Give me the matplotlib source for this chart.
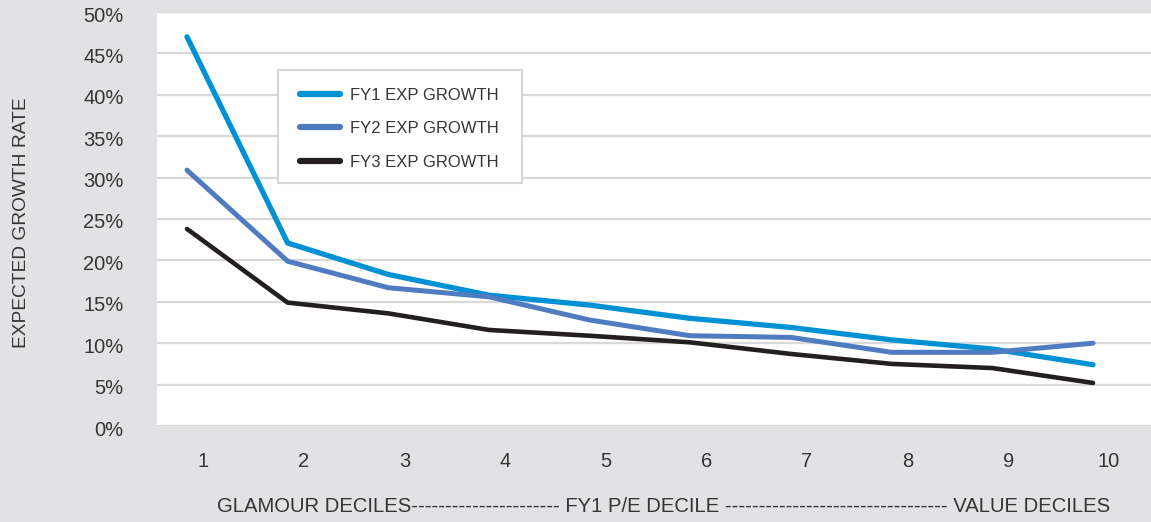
import matplotlib
matplotlib.use("Agg")
import matplotlib.pyplot as plt
import matplotlib.transforms as mtransforms
from matplotlib.patches import Rectangle
from matplotlib.ticker import FuncFormatter

plt.rcParams["font.family"] = ["Liberation Sans", "DejaVu Sans"]

deciles = [1, 2, 3, 4, 5, 6, 7, 8, 9, 10]
decile_labels = ["1", "2", "3", "4", "5", "6", "7", "8", "9", "10"]
fy1_growth = [47.0, 22.1, 18.3, 15.8, 14.6, 13.0, 11.9, 10.4, 9.3, 7.4]
fy2_growth = [30.9, 19.9, 16.7, 15.6, 12.8, 10.9, 10.7, 8.9, 8.9, 10.0]
fy3_growth = [23.8, 14.9, 13.6, 11.6, 10.9, 10.1, 8.7, 7.5, 7.0, 5.2]
series_names = ["FY1 EXP GROWTH", "FY2 EXP GROWTH", "FY3 EXP GROWTH"]
y_ticks = [0, 5, 10, 15, 20, 25, 30, 35, 40, 45, 50]

colors = ["#0090d4", "#4f7cc1", "#231f20"]
bg = "#e2e2e4"
text_color = "#353535"
grid_color = "#d9d9d9"

W, H = 1151, 522
fig = plt.figure(figsize=(W / 100, H / 100), dpi=100, facecolor=bg)
ax = fig.add_axes([157 / W, 1 - 426 / H, 1 - 157 / W, (426 - 12) / H])
ax.set_facecolor("white")

for vals, c, name, lw in zip([fy1_growth, fy2_growth, fy3_growth], colors,
                             series_names, [3.8, 3.6, 3.3]):
    ax.plot(deciles, vals, color=c, lw=lw, label=name,
            solid_capstyle="round", solid_joinstyle="round", zorder=3)

ax.set_xlim(1 - 30 / 100.7, 10 + 58 / 100.7)
ax.set_ylim(0, 50)
ax.set_yticks(y_ticks)
ax.yaxis.set_major_formatter(FuncFormatter(lambda v, p: f"{v:.0f}%"))
ax.set_xticks(deciles)
ax.set_xticklabels(decile_labels)

ax.grid(axis="y", color=grid_color, lw=1.6, zorder=1)
ax.grid(axis="x", visible=False)
for s in ax.spines.values():
    s.set_visible(False)

ax.tick_params(axis="both", length=0, labelsize=14.5, labelcolor=text_color)
ax.tick_params(axis="y", pad=24)
ax.tick_params(axis="x", pad=19)

xshift = mtransforms.ScaledTranslation(16 / 100, 0, fig.dpi_scale_trans)
for lbl in ax.get_xticklabels():
    lbl.set_transform(lbl.get_transform() + xshift)
yshift = mtransforms.ScaledTranslation(0, -2 / 100, fig.dpi_scale_trans)
for lbl in ax.get_yticklabels():
    lbl.set_transform(lbl.get_transform() + yshift)

fig.text(22 / W, 1 - 223 / H, "EXPECTED GROWTH RATE", rotation=90,
         ha="center", va="center", fontsize=13.8, color=text_color)

bottom = ("GLAMOUR DECILES" + "-" * 22 + " FY1 P/E DECILE " + "-" * 33
          + " VALUE DECILES")
fig.text(664 / W, 1 - 507 / H, bottom, ha="center", va="center",
         fontsize=14.6, color=text_color)

# legend box drawn as a separate frame so the padding can be set freely
ax.add_patch(Rectangle((278 / W, 1 - 183 / H), (522 - 278) / W,
                       (183 - 70) / H, transform=fig.transFigure,
                       facecolor="white", edgecolor="#d6d6d6",
                       lw=1.5, zorder=4, clip_on=False))
leg = ax.legend(loc="upper left", bbox_to_anchor=(300 / W, 1 - 88 / H),
                bbox_transform=fig.transFigure, borderaxespad=0, borderpad=0,
                fontsize=12, frameon=False, handlelength=2.4,
                handletextpad=0.6, labelspacing=1.1)
leg.set_zorder(5)
for t in leg.get_texts():
    t.set_color(text_color)
for h in leg.get_lines():
    h.set_linewidth(4.5)

fig.savefig("out.png", dpi=100, facecolor=bg)
